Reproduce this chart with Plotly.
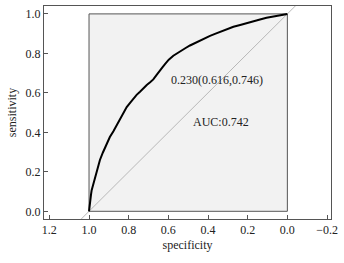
import plotly.graph_objects as go

specificity = [1.0, 0.997, 0.995, 0.990, 0.987, 0.978, 0.970, 0.958, 0.945, 0.930, 0.911, 0.895,
               0.877, 0.860, 0.844, 0.826, 0.810, 0.792, 0.776, 0.760, 0.743, 0.726, 0.709,
               0.692, 0.676, 0.660, 0.642, 0.630, 0.617, 0.598, 0.575, 0.558, 0.541, 0.515,
               0.491, 0.466, 0.440, 0.415, 0.390, 0.365, 0.339, 0.305, 0.272, 0.238, 0.205,
               0.170, 0.138, 0.105, 0.070, 0.035, 0.0]
sensitivity = [0.0, 0.035, 0.060, 0.085, 0.105, 0.140, 0.175, 0.218, 0.260, 0.298, 0.345, 0.376,
               0.405, 0.436, 0.465, 0.498, 0.528, 0.551, 0.571, 0.590, 0.606, 0.624, 0.640,
               0.654, 0.668, 0.690, 0.710, 0.729, 0.746, 0.768, 0.788, 0.800, 0.811, 0.826,
               0.840, 0.853, 0.866, 0.878, 0.889, 0.899, 0.910, 0.924, 0.935, 0.944, 0.954,
               0.964, 0.972, 0.980, 0.987, 0.994, 1.0]

x_ticks = [1.2, 1.0, 0.8, 0.6, 0.4, 0.2, 0.0, -0.2]
y_ticks = [0.0, 0.2, 0.4, 0.6, 0.8, 1.0]
cutoff_label = "0.230(0.616,0.746)"
auc_label = "AUC:0.742"

font = "Liberation Serif, Times New Roman, serif"

fig = go.Figure()
fig.add_shape(type="rect", x0=1, x1=0, y0=0, y1=1, xref="x", yref="y",
              fillcolor="#f2f2f2", line=dict(color="#555555", width=1), layer="below")
fig.add_shape(type="line", x0=1.04, y0=-0.04, x1=-0.07, y1=1.07, xref="x", yref="y",
              line=dict(color="#b8b8b8", width=1), layer="below")
fig.add_trace(go.Scatter(x=specificity, y=sensitivity, mode="lines",
                         line=dict(color="black", width=2), showlegend=False, hoverinfo="skip"))
fig.add_annotation(x=0.354, y=0.665, text=cutoff_label, showarrow=False,
                   font=dict(family=font, size=12, color="#222"))
fig.add_annotation(x=0.335, y=0.454, text=auc_label, showarrow=False,
                   font=dict(family=font, size=12, color="#222"))

fig.update_layout(
    width=344, height=263,
    margin=dict(l=44, r=13, t=6, b=44),
    paper_bgcolor="white", plot_bgcolor="white",
    font=dict(family=font, size=12, color="#222"),
    xaxis=dict(range=[1.227, -0.22], tickvals=x_ticks, ticktext=[f"{v:.1f}".replace("-", "\u2212") for v in x_ticks],
               ticks="inside", ticklen=4, tickcolor="#555", showgrid=False, zeroline=False,
               showline=True, linecolor="#555", linewidth=1, mirror=True,
               title=dict(text="specificity", standoff=4, font=dict(size=12)),
               tickfont=dict(size=12)),
    yaxis=dict(range=[-0.039, 1.04], tickvals=y_ticks, ticktext=[f"{v:.1f}" for v in y_ticks],
               ticks="inside", ticklen=4, tickcolor="#555", showgrid=False, zeroline=False,
               showline=True, linecolor="#555", linewidth=1, mirror=True,
               title=dict(text="sensitivity", standoff=6, font=dict(size=12)),
               tickfont=dict(size=12)),
)

fig.write_html("out.html", config={"displayModeBar": False},
               post_script="document.body.style.margin='0';")
